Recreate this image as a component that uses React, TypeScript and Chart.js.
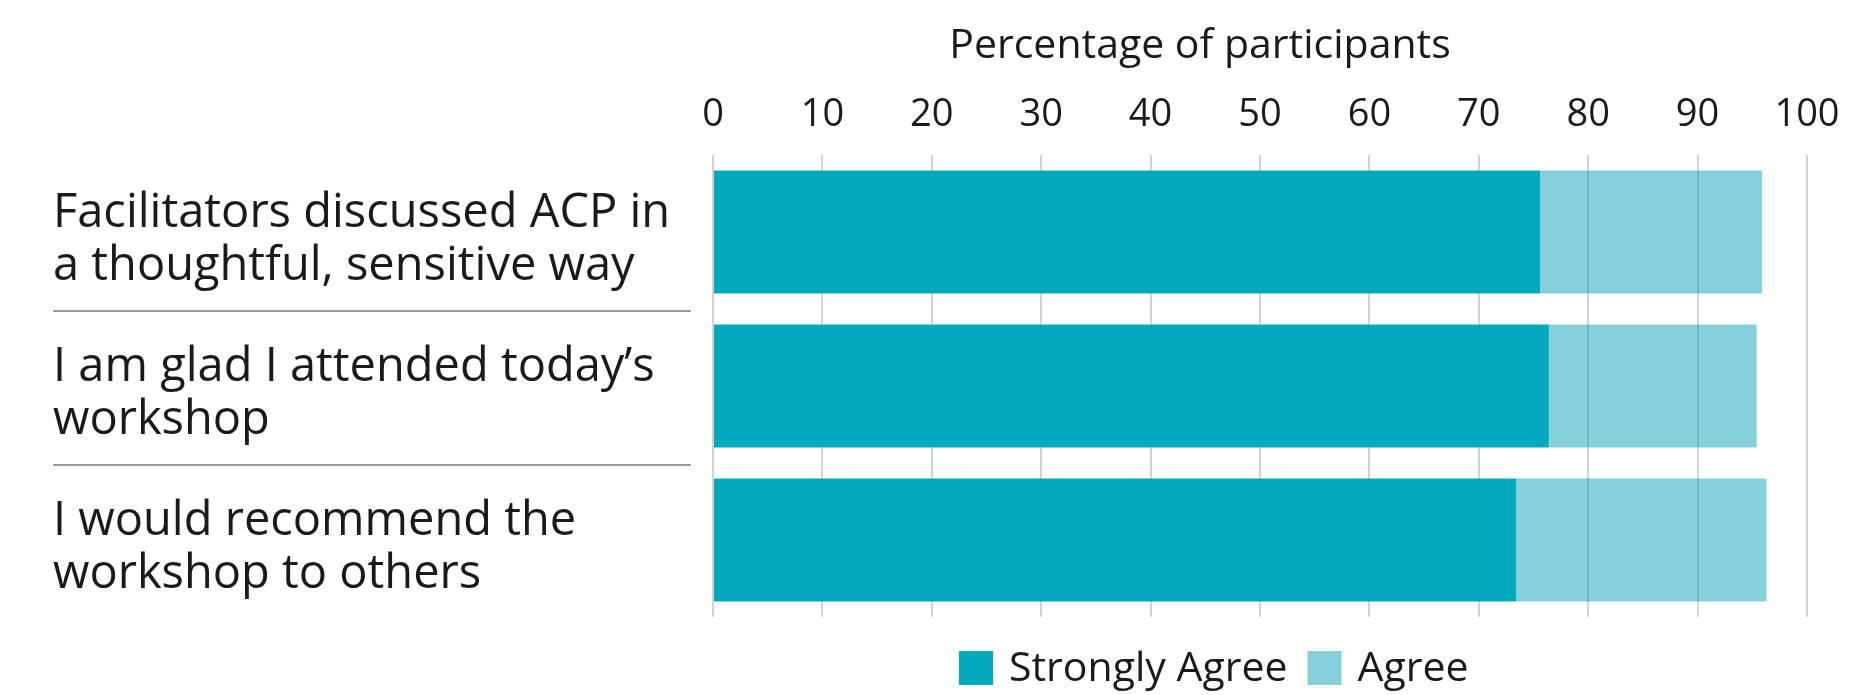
import React, { useEffect, useRef } from "react";
import { Chart, registerables } from "chart.js";

Chart.register(...registerables);

const categories: string[][] = [
  ["Facilitators discussed ACP in", "a thoughtful, sensitive way"],
  ["I am glad I attended today\u2019s", "workshop"],
  ["I would recommend the", "workshop to others"],
];
const seriesNames: string[] = ["Strongly Agree", "Agree"];
const stronglyAgree: number[] = [75.6, 76.4, 73.4];
const agree: number[] = [20.3, 19.0, 22.9];
const axisTitle = "Percentage of participants";

const FONT = "'Open Sans', 'Noto Sans', sans-serif";
const TEXT = "#1a1a1a";

const decorPlugin = {
  id: "decor",
  afterDraw(chart: any) {
    const { ctx, chartArea } = chart;
    const yScale = chart.scales.y;
    ctx.save();
    // separators between category labels
    ctx.strokeStyle = "#9a9a9a";
    ctx.lineWidth = 2;
    const n = chart.data.labels.length;
    for (let i = 0; i < n - 1; i++) {
      const y = Math.round((yScale.getPixelForValue(i) + yScale.getPixelForValue(i + 1)) / 2) + 2;
      ctx.beginPath();
      ctx.moveTo(yScale.left, y);
      ctx.lineTo(chartArea.left - 22, y);
      ctx.stroke();
    }
    // axis title
    ctx.fillStyle = TEXT;
    ctx.font = `41px ${FONT}`;
    ctx.textAlign = "center";
    ctx.textBaseline = "alphabetic";
    ctx.fillText(axisTitle, chartArea.left + 487, 58);
    // legend
    const boxSize = 34;
    const boxTop = chartArea.bottom + 34;
    let x = chartArea.left + 246;
    ctx.textAlign = "left";
    ctx.textBaseline = "middle";
    chart.data.datasets.forEach((ds: any) => {
      ctx.fillStyle = ds.legendColor;
      ctx.fillRect(x, boxTop, boxSize, boxSize);
      x += boxSize + 16;
      ctx.fillStyle = TEXT;
      ctx.fillText(ds.label, x, boxTop + boxSize / 2 + 1);
      x += ctx.measureText(ds.label).width + 20;
    });
    ctx.restore();
  },
};

export default function App() {
  const canvasRef = useRef<HTMLCanvasElement | null>(null);

  useEffect(() => {
    let chart: Chart | null = null;
    let cancelled = false;
    const build = () => {
      if (cancelled || !canvasRef.current) return;
      chart = new Chart(canvasRef.current, {
        type: "bar",
        data: {
          labels: categories as any,
          datasets: [
            {
              label: seriesNames[0],
              data: stronglyAgree,
              backgroundColor: "#00A9BC",
              legendColor: "#00A9BC",
              barPercentage: 0.8,
              categoryPercentage: 1,
            } as any,
            {
              label: seriesNames[1],
              data: agree,
              backgroundColor: "rgba(0,157,178,0.48)",
              legendColor: "#85D0DA",
              barPercentage: 0.8,
              categoryPercentage: 1,
            } as any,
          ],
        },
        options: {
          indexAxis: "y",
          responsive: true,
          maintainAspectRatio: false,
          animation: false,
          layout: { padding: { left: 53, right: 46, top: 0, bottom: 78 } },
          scales: {
            x: {
              position: "top",
              stacked: true,
              min: 0,
              max: 100,
              ticks: {
                stepSize: 10,
                font: { family: FONT, size: 38 },
                color: TEXT,
                padding: 17,
              },
              grid: { color: "#d2d2d2", lineWidth: 2, drawTicks: false },
              border: { display: false },
              afterFit: (s: any) => {
                s.height = 155;
                s.paddingLeft = 0;
                s.paddingRight = 0;
              },
            },
            y: {
              stacked: true,
              ticks: {
                crossAlign: "far",
                font: { family: FONT, size: 47, lineHeight: 1.14 },
                color: TEXT,
                padding: 0,
                labelOffset: 8,
              },
              grid: { display: false },
              border: { display: false },
              afterFit: (s: any) => {
                s.width = 660;
                s.paddingTop = 0;
                s.paddingBottom = 0;
              },
            },
          },
          plugins: {
            legend: { display: false },
            title: { display: false },
            tooltip: { enabled: false },
          },
        } as any,
        plugins: [decorPlugin],
      });
    };
    const fontsReady = (document as any).fonts
      ? Promise.all([
          (document as any).fonts.load(`47px 'Open Sans'`),
        ]).catch(() => null)
      : Promise.resolve(null);
    fontsReady.then(build);
    return () => {
      cancelled = true;
      if (chart) chart.destroy();
    };
  }, []);

  return (
    <div
      style={{
        position: "fixed",
        left: 0,
        top: 0,
        width: 1853,
        height: 695,
        background: "#ffffff",
      }}
    >
      <canvas ref={canvasRef} />
    </div>
  );
}
